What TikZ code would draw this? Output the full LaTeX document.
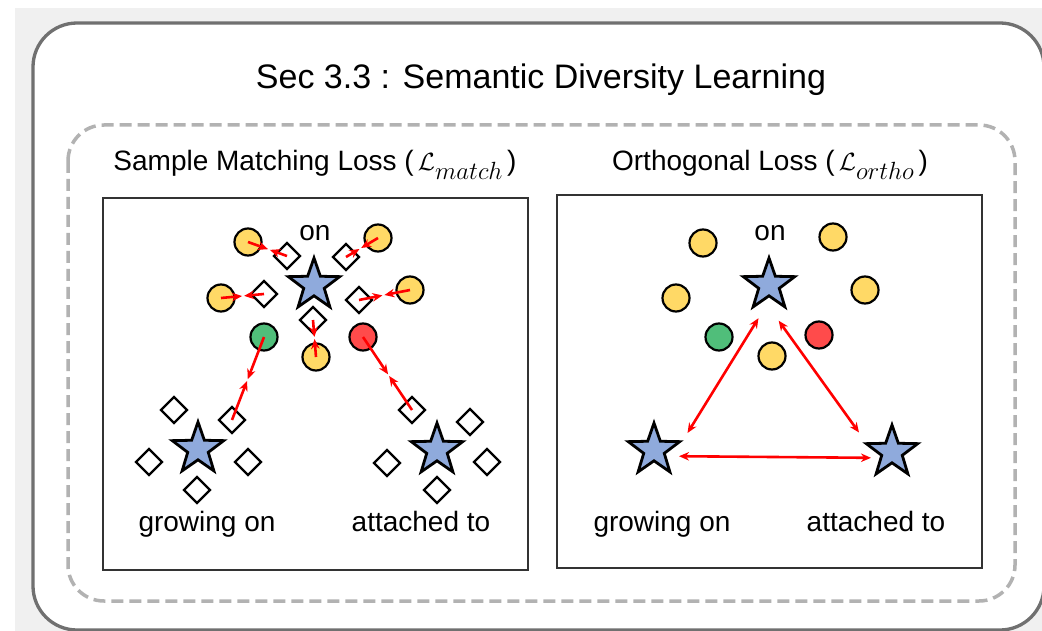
\documentclass[tikz,border=0pt]{standalone}
\usepackage{fontspec}
\setmainfont{Liberation Sans}
\usepackage{amsmath}
\usetikzlibrary{shapes.geometric, arrows.meta, positioning}
\definecolor{starblue}{RGB}{143,170,220}
\definecolor{sampleyellow}{RGB}{255,217,102}
\definecolor{samplegreen}{RGB}{80,190,122}
\definecolor{samplered}{RGB}{255,75,75}
\definecolor{framegray}{RGB}{112,112,112}
\definecolor{dashgray}{RGB}{178,178,178}
\definecolor{pagegray}{RGB}{240,240,240}
\tikzset{basic/.style={draw,line width=2.2pt,inner sep=0pt}}
\tikzset{proto/.style={basic,star,star points=5,star point ratio=2.5,
                       minimum size=54pt,fill=starblue,line width=2.8pt}}
\tikzset{sample/.style={basic,circle,minimum size=27pt,fill=sampleyellow}}
\tikzset{feat/.style={basic,diamond,minimum size=27pt,fill=white}}
\tikzset{panel/.style={draw=black!80,line width=1.5pt}}
\tikzset{pull/.style={draw=red,line width=2.6pt,shorten >=1pt,
                      -{Stealth[length=10pt,width=8.5pt]}}}
\tikzset{push/.style={draw=red,line width=2.6pt,
                      {Stealth[length=10pt,width=8.5pt]}-{Stealth[length=10pt,width=8.5pt]}}}
\tikzset{word/.style={font=\fontsize{28}{34}\selectfont,inner sep=0pt,anchor=base}}
\newcommand{\lossname}[1]{{\fontsize{34}{40}\selectfont$\,\mathcal{L}_{#1}\,$}}

\begin{document}
\begin{tikzpicture}[x=1pt,y=-1pt]
    \useasboundingbox (0,0) rectangle (1042,631);
    % Background and frames
    \fill[pagegray] (15,8) rectangle (1042,631);
    \draw[framegray,line width=3.3pt,fill=white,rounded corners=44pt]
        (33,23) rectangle (1044,630);
    \draw[dashgray,line width=3.5pt,dash pattern=on 12pt off 6pt,rounded corners=36pt]
        (68,125) rectangle (1015,601);
    \draw[panel] (103,198) rectangle (528,570);
    \draw[panel] (557,195) rectangle (982,568);
    % Titles
    \node[word,font=\fontsize{34}{40}\selectfont] (title) at (541,89)
        {Sec 3.3 : Semantic Diversity Learning};
    \node[word] (match_title) at (315,171) {Sample Matching Loss (\lossname{match})};
    \node[word] (ortho_title) at (770,171) {Orthogonal Loss (\lossname{ortho})};
    % Left panel: prototypes
    \node[proto] (lon) at (314,285) {};
    \node[proto] (lgrow) at (198,449) {};
    \node[proto] (lattach) at (437,450) {};
    % Left panel: samples and features around "on"
    \foreach \x/\y [count=\i] in {248/242,378/238,221/298,410/290,316/357}{%
        \node[sample] (ly\i) at (\x,\y) {};
      }
    \foreach \x/\y [count=\i] in {287/256,346/257,264/294,359/300,313/320}{%
        \node[feat] (ld\i) at (\x,\y) {};
      }
    \node[sample,fill=samplegreen] (lgreen) at (264,337) {};
    \node[sample,fill=samplered] (lred) at (363,337) {};
    % Left panel: features around the other two prototypes
    \foreach \x/\y [count=\i] in {174/410,232/420,149/462,248/462,197/490}{%
        \node[feat] (lg\i) at (\x,\y) {};
      }
    \foreach \x/\y [count=\i] in {412/410,470/422,387/463,487/462,437/490}{%
        \node[feat] (la\i) at (\x,\y) {};
      }
    % Matching arrows, each pair meets halfway
    \foreach \a/\b [count=\i] in {ly1/ld1,ly2/ld2,ly3/ld3,ly4/ld4,ly5/ld5,lgreen/lg2,lred/la1}{%
        \path (\a) -- coordinate[pos=0.5] (m\i) (\b);
        \draw[pull] (\a.center) -- (m\i);
        \draw[pull] (\b.center) -- (m\i);
      }
    % Left panel labels
    \node[word] (lon_text) at (315,241) {on};
    \node[word] (lgrow_text) at (207,531) {growing on};
    \node[word] (lattach_text) at (421,531) {attached to};
    % Right panel: samples
    \foreach \x/\y [count=\i] in {703/243,833/237,676/298,865/290,772/356}{%
        \node[sample] (ry\i) at (\x,\y) {};
      }
    \node[sample,fill=samplegreen] (rgreen) at (719,337) {};
    \node[sample,fill=samplered] (rred) at (819,335) {};
    % Right panel: prototypes
    \node[proto] (ron) at (769,285) {};
    \node[proto] (rgrow) at (654,450) {};
    \node[proto] (rattach) at (892,452) {};
    % Orthogonal arrows between prototypes
    \draw[push,shorten <=39pt,shorten >=20pt]
        ([xshift=10pt]ron.center) -- ([xshift=23pt]rgrow.center);
    \draw[push,shorten <=44pt,shorten >=24pt]
        ([xshift=-16pt]ron.center) -- ([xshift=-19pt]rattach.center);
    \draw[push,shorten <=25pt,shorten >=21pt]
        ([yshift=-6pt]rgrow.center) -- ([yshift=-6pt]rattach.center);
    % Right panel labels
    \node[word] (ron_text) at (770,241) {on};
    \node[word] (rgrow_text) at (662,531) {growing on};
    \node[word] (rattach_text) at (876,531) {attached to};
\end{tikzpicture}
\end{document}
